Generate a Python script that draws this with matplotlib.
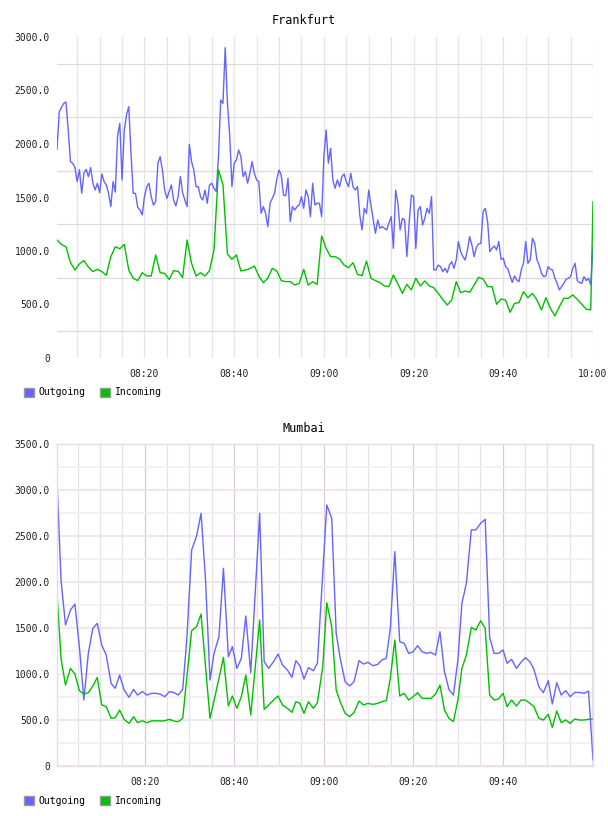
import numpy as np
import matplotlib
matplotlib.use("Agg")
import matplotlib.pyplot as plt
from matplotlib.ticker import MultipleLocator, FixedLocator, FuncFormatter
from matplotlib.patches import Patch

plt.rcParams['font.family'] = ['DejaVu Sans Mono']

# minutes after 08:00
# Frankfurt outgoing, one sample every 30 s from 08:00:30
fra_out = [1950, 2300, 2343, 2380, 2393, 2131, 1835, 1820, 1780, 1648,
           1760, 1540, 1726, 1763, 1695, 1779, 1633, 1570, 1633, 1545,
           1720, 1648, 1617, 1539, 1415, 1648, 1550, 2075, 2193, 1664,
           2131, 2271, 2349, 1913, 1539, 1539, 1408, 1383, 1337, 1508,
           1601, 1633, 1508, 1430, 1461, 1820, 1882, 1757, 1570, 1492,
           1555, 1617, 1477, 1421, 1508, 1695, 1545, 1477, 1415, 1997,
           1835, 1757, 1601, 1601, 1508, 1477, 1570, 1446, 1617, 1633,
           1586, 1555, 1882, 2411, 2380, 2900, 2380, 2084, 1601, 1820,
           1851, 1944, 1882, 1695, 1742, 1633, 1726, 1835, 1726, 1664,
           1648, 1352, 1415, 1352, 1228, 1446, 1492, 1539, 1670, 1757,
           1710, 1523, 1517, 1679, 1274, 1415, 1383, 1415, 1430, 1508,
           1399, 1570, 1508, 1321, 1633, 1430, 1446, 1446, 1321, 1882,
           2131, 1820, 1960, 1664, 1586, 1664, 1601, 1695, 1720, 1648,
           1601, 1726, 1601, 1570, 1601, 1337, 1197, 1399, 1352, 1570,
           1430, 1290, 1165, 1290, 1212, 1228, 1212, 1197, 1259, 1321,
           1025, 1570, 1446, 1197, 1305, 1290, 947, 1259, 1523, 1508,
           1025, 1383, 1415, 1243, 1305, 1399, 1352, 1508, 823, 823,
           869, 854, 807, 838, 798, 869, 900, 838, 916, 1088,
           994, 947, 916, 1010, 1134, 1056, 947, 1034, 1066, 1072,
           1368, 1399, 1274, 994, 1025, 1047, 1010, 1088, 922, 932,
           854, 835, 767, 707, 767, 729, 714, 823, 885, 1088,
           885, 916, 1119, 1072, 916, 869, 792, 760, 767, 854,
           829, 823, 745, 698, 636, 667, 698, 736, 745, 760,
           838, 885, 723, 704, 698, 760, 723, 745, 683, 1041]

# Frankfurt incoming, one sample a minute from 08:00:30, last one at 10:00
fra_in = [1103, 1060, 1040, 891, 822, 880, 910, 850, 807, 830,
          807, 773, 947, 1040, 1020, 1062, 822, 745, 723, 797,
          766, 766, 963, 797, 791, 735, 816, 810, 751, 1103,
          885, 766, 797, 766, 816, 1010, 1760, 1620, 972, 922,
          963, 813, 822, 835, 860, 766, 704, 745, 838, 813,
          723, 714, 714, 682, 697, 829, 682, 713, 688, 1140,
          1025, 947, 947, 925, 869, 844, 891, 782, 769, 906,
          745, 723, 704, 673, 667, 776, 692, 604, 688, 636,
          745, 673, 720, 673, 657, 604, 548, 495, 542, 713,
          611, 626, 614, 682, 754, 738, 667, 667, 502, 552,
          542, 427, 511, 517, 620, 564, 604, 542, 449, 564,
          464, 393, 480, 558, 558, 589, 548, 502, 455, 450,
          1460]

mum_t = [0.4, 1.3, 2.3, 3.4, 4.4, 5.4, 6.4, 7.4, 8.4, 9.4,
         10.4, 11.4, 12.5, 13.4, 14.4, 15.4, 16.5, 17.5, 18.4, 19.5,
         20.5, 21.5, 22.5, 23.5, 24.5, 25.5, 26.5, 27.5, 28.5, 29.4,
         30.5, 31.6, 32.6, 33.6, 34.6, 35.5, 36.6, 37.6, 38.7, 39.6,
         40.6, 41.6, 42.6, 43.7, 45.7, 46.7, 47.7, 48.8, 49.8, 50.8,
         51.9, 52.9, 53.8, 54.7, 55.6, 56.6, 57.7, 58.6, 59.8, 60.7,
         61.8, 62.8, 63.7, 64.8, 65.8, 66.8, 67.9, 68.9, 69.9, 71.0,
         72.1, 73.0, 74.0, 74.9, 75.9, 77.0, 78.0, 79.0, 80.0, 81.0,
         82.0, 83.0, 84.0, 85.0, 86.0, 87.0, 88.0, 89.0, 90.0, 90.9,
         91.9, 93.0, 94.0, 95.1, 96.1, 97.1, 98.1, 99.1, 100.1, 101.0,
         102.0, 103.1, 104.1, 105.1, 106.1, 107.0, 108.1, 109.1, 110.2, 111.1,
         112.1, 113.1, 114.1, 115.1, 116.1, 117.1, 118.2, 119.2, 120.2]

mum_out = [3109, 2022, 1532, 1695, 1760, 1297, 717, 1224, 1496, 1550,
           1315, 1206, 898, 844, 989, 826, 746, 833, 771, 808,
           771, 790, 790, 780, 753, 808, 800, 771, 833, 1369,
           2348, 2500, 2747, 2022, 934, 1224, 1405, 2149, 1188, 1297,
           1061, 1170, 1630, 1014, 2747, 1134, 1061, 1134, 1217, 1098,
           1043, 963, 1145, 1087, 945, 1069, 1036, 1116, 2100, 2837,
           2693, 1442, 1170, 916, 869, 916, 1145, 1108, 1127, 1090,
           1105, 1152, 1170, 1496, 2330, 1351, 1333, 1224, 1242, 1308,
           1242, 1224, 1235, 1206, 1460, 1025, 833, 771, 1150, 1769,
           1986, 2566, 2566, 2638, 2682, 1398, 1224, 1224, 1261, 1116,
           1159, 1061, 1127, 1177, 1134, 1050, 862, 797, 927, 674,
           905, 771, 819, 753, 800, 800, 790, 815, 72]

mum_in = [1877, 1170, 880, 1061, 1000, 819, 782, 797, 869, 963,
          663, 645, 518, 525, 608, 507, 463, 536, 471, 492,
          471, 489, 492, 489, 492, 507, 489, 482, 518, 953,
          1471, 1514, 1652, 1079, 518, 710, 953, 1181, 652, 761,
          627, 753, 989, 554, 1587, 616, 663, 717, 761, 663,
          627, 583, 699, 681, 572, 699, 627, 688, 1079, 1775,
          1514, 826, 699, 572, 536, 583, 706, 663, 681, 670,
          681, 699, 710, 953, 1369, 761, 790, 717, 753, 797,
          735, 735, 735, 782, 880, 608, 518, 482, 717, 1061,
          1206, 1507, 1478, 1579, 1496, 771, 717, 728, 790, 645,
          717, 652, 717, 717, 681, 645, 518, 500, 561, 420,
          598, 471, 500, 463, 511, 500, 500, 507, 511]

fra_out_t = 0.5 + 0.5 * np.arange(len(fra_out))
fra_in_t = np.append(0.5 + np.arange(len(fra_in) - 1), 120.0)

blue = '#6464ff'
green = '#00c000'


def hhmm(v, pos=None):
    m = int(round(v))
    return '%02d:%02d' % (8 + m // 60, m % 60)


def ylab(v, pos=None):
    return '0' if v == 0 else '%.1f' % v


fig = plt.figure(figsize=(6.08, 8.16), dpi=100)
W, H = 608, 816

# ---- Frankfurt
ax1 = fig.add_axes([57 / W, 1 - 358 / H, 536 / W, 321 / H])
ax1.plot(fra_out_t, fra_out, color=blue, lw=1.0)
ax1.plot(fra_in_t, fra_in, color=green, lw=1.0)
ax1.set_xlim(fra_out_t[0], 120)
ax1.set_ylim(0, 3000)
ax1.xaxis.set_major_locator(MultipleLocator(20))
ax1.xaxis.set_minor_locator(MultipleLocator(5))
ax1.xaxis.set_major_formatter(FuncFormatter(hhmm))
ax1.yaxis.set_major_locator(MultipleLocator(500))
ax1.yaxis.set_minor_locator(MultipleLocator(250))
ax1.yaxis.set_major_formatter(FuncFormatter(ylab))
ax1.grid(True, axis='x', which='both', color='#e4e4e4', lw=0.9)
ax1.grid(True, axis='y', which='minor', color='#dcdcdc', lw=0.9)
for s in ax1.spines.values():
    s.set_visible(False)
ax1.set_axisbelow(True)

# ---- Mumbai
ax2 = fig.add_axes([57 / W, 1 - 766 / H, 536 / W, 322 / H])
ax2.plot(mum_t, mum_out, color=blue, lw=1.0)
ax2.plot(mum_t, mum_in, color=green, lw=1.0)
ax2.set_xlim(mum_t[0], mum_t[-1])
ax2.set_ylim(0, 3500)
ax2.xaxis.set_major_locator(FixedLocator([20, 40, 60, 80, 100]))
ax2.xaxis.set_minor_locator(MultipleLocator(5))
ax2.xaxis.set_major_formatter(FuncFormatter(hhmm))
ax2.yaxis.set_major_locator(MultipleLocator(500))
ax2.yaxis.set_minor_locator(MultipleLocator(250))
ax2.yaxis.set_major_formatter(FuncFormatter(ylab))
ax2.grid(True, axis='x', which='major', color='#dcc8dc', lw=0.9)
ax2.grid(True, axis='x', which='minor', color='#e8e0e8', lw=0.9)
ax2.grid(True, axis='y', which='major', color='#f0e0f0', lw=1.2)
ax2.grid(True, axis='y', which='minor', color='#f0f0f0', lw=1.2)
for s in ax2.spines.values():
    s.set_color('#ecd8ec')
    s.set_linewidth(1.0)
ax2.set_axisbelow(True)

for ax in (ax1, ax2):
    ax.tick_params(which='both', length=0, labelsize=7, colors='#222222')
    ax.tick_params(axis='x', pad=8)
    ax.tick_params(axis='y', pad=5)

fig.text(0.5, 1 - 20 / H, 'Frankfurt', ha='center', va='center', fontsize=8.5)
fig.text(0.5, 1 - 429 / H, 'Mumbai', ha='center', va='center', fontsize=8.5)

handles = [Patch(facecolor=blue, edgecolor='#999999', label='Outgoing'),
           Patch(facecolor=green, edgecolor='#999999', label='Incoming')]
for yc in (392.5, 800.5):
    fig.legend(handles=handles, loc='center left', bbox_to_anchor=(24 / W, 1 - yc / H),
               ncol=2, frameon=False, fontsize=7, handlelength=1.03, handleheight=1.03,
               handletextpad=0.5, columnspacing=1.5, borderpad=0, borderaxespad=0)

fig.savefig('out.png', dpi=100)
